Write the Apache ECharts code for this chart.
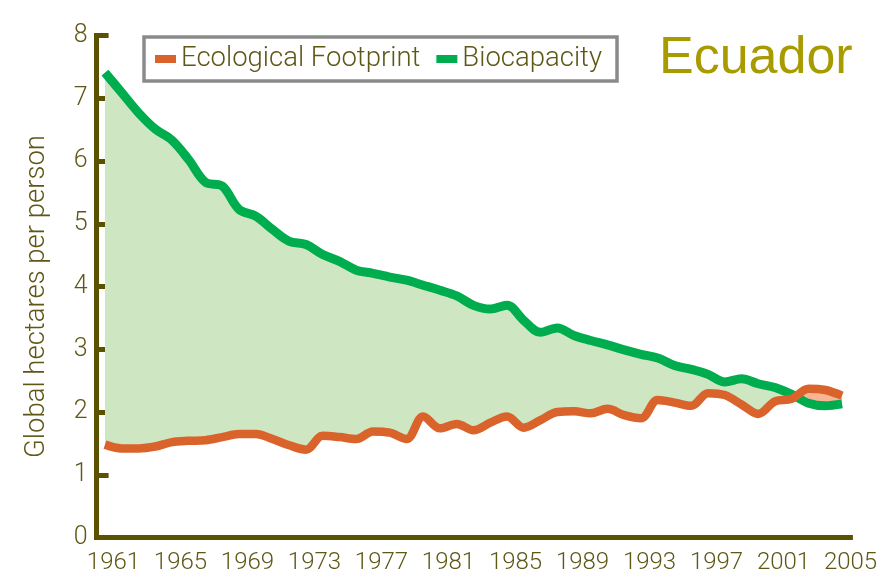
<!DOCTYPE html>
<html><head><meta charset="utf-8">
<script src="https://cdn.jsdelivr.net/npm/echarts@6/dist/echarts.min.js"></script>
<style>html,body{margin:0;padding:0;background:#fff}#c{width:896px;height:582px}</style>
</head><body><div id="c"></div>
<script>
const years = ['1961','1962','1963','1964','1965','1966','1967','1968','1969','1970',
  '1971','1972','1973','1974','1975','1976','1977','1978','1979','1980',
  '1981','1982','1983','1984','1985','1986','1987','1988','1989','1990',
  '1991','1992','1993','1994','1995','1996','1997','1998','1999','2000',
  '2001','2002','2003','2004','2005'];
const biocapacity = [7.41,7.09,6.77,6.51,6.33,6.02,5.66,5.60,5.23,5.12,
  4.91,4.72,4.67,4.51,4.40,4.26,4.21,4.15,4.10,4.02,
  3.94,3.85,3.70,3.64,3.70,3.46,3.27,3.34,3.22,3.14,
  3.07,2.99,2.92,2.86,2.74,2.68,2.60,2.48,2.53,2.45,
  2.39,2.28,2.14,2.10,2.13];
const footprint = [1.48,1.42,1.42,1.45,1.52,1.54,1.55,1.60,1.65,1.65,
  1.57,1.47,1.40,1.62,1.60,1.57,1.69,1.67,1.57,1.93,
  1.74,1.81,1.71,1.83,1.93,1.75,1.87,2.00,2.01,1.98,
  2.05,1.95,1.90,2.19,2.15,2.10,2.30,2.27,2.12,1.97,
  2.17,2.21,2.37,2.35,2.26];
const seriesNames = ['Ecological Footprint', 'Biocapacity'];
const chartTitle = 'Ecuador';
const yAxisTitle = 'Global hectares per person';

const greenBand = biocapacity.map((b, i) => Math.max(b - footprint[i], 0));
const redBand = footprint.map((f, i) => Math.max(f - biocapacity[i], 0));

const AXIS = '#5a5200';
const TXT = '#5e5716';
const FONT = 'Roboto, "Liberation Sans", sans-serif';
const ORANGE = '#d9632b';
const GREEN = '#00ad4e';
const SM = 0.35;

const chart = echarts.init(document.getElementById('c'), null, {renderer: 'canvas'});
const hidden = {symbol: 'none', silent: true, lineStyle: {opacity: 0}, smooth: SM};
chart.setOption({
  animation: false,
  backgroundColor: '#ffffff',
  title: {
    text: chartTitle, left: 654, top: 28,
    textStyle: {fontSize: 52, fontWeight: 'normal', color: '#a89b00', fontFamily: '"Liberation Sans", Arial, sans-serif'}
  },
  legend: {
    data: seriesNames, left: 144, top: 37, orient: 'horizontal',
    padding: [8, 15, 8, 11], borderColor: '#8a8a8a', borderWidth: 3.5,
    itemWidth: 21, itemHeight: 8, itemGap: 16, icon: 'rect',
    textStyle: {fontSize: 27.5, color: TXT, fontFamily: FONT, fontWeight: 300}
  },
  grid: {left: 96.6, right: 45.6, top: 35.5, bottom: 44.5, containLabel: false},
  xAxis: {
    type: 'category', data: years, boundaryGap: true,
    axisLine: {lineStyle: {color: AXIS, width: 5, cap: 'square'}},
    axisTick: {inside: true, length: 16, interval: 3, lineStyle: {color: AXIS, width: 5}},
    axisLabel: {interval: 3, fontSize: 24, color: TXT, fontFamily: FONT, fontWeight: 300, margin: 13, padding: [0, 0, 0, 17]},
    splitLine: {show: false}
  },
  yAxis: {
    type: 'value', min: 0, max: 8, interval: 1,
    name: yAxisTitle, nameLocation: 'middle', nameGap: 45, nameRotate: 90,
    nameTextStyle: {fontSize: 27.5, color: TXT, fontFamily: FONT, fontWeight: 300, padding: [0, 20, 0, 0]},
    axisLine: {show: true, lineStyle: {color: AXIS, width: 5, cap: 'square'}},
    axisTick: {show: true, inside: true, length: 12, lineStyle: {color: AXIS, width: 5}},
    axisLabel: {fontSize: 25, color: TXT, fontFamily: FONT, fontWeight: 300, margin: 9},
    splitLine: {show: false}
  },
  series: [
    Object.assign({type: 'line', name: 'baseG', stack: 'g', data: footprint, z: 1}, hidden),
    Object.assign({type: 'line', name: 'bandG', stack: 'g', data: greenBand, z: 1,
      areaStyle: {color: '#cfe6c3', opacity: 1}}, hidden),
    Object.assign({type: 'line', name: 'baseR', stack: 'r', data: biocapacity, z: 1}, hidden),
    Object.assign({type: 'line', name: 'bandR', stack: 'r', data: redBand, z: 1,
      areaStyle: {color: '#f8b595', opacity: 1}}, hidden),
    {type: 'line', name: seriesNames[1], data: biocapacity, symbol: 'none', smooth: SM, z: 3,
      color: GREEN, itemStyle: {color: GREEN}, lineStyle: {color: GREEN, width: 9}},
    {type: 'line', name: seriesNames[0], data: footprint, symbol: 'none', smooth: SM, z: 4,
      color: ORANGE, itemStyle: {color: ORANGE}, lineStyle: {color: ORANGE, width: 8.5}}
  ]
});
</script>
</body></html>
